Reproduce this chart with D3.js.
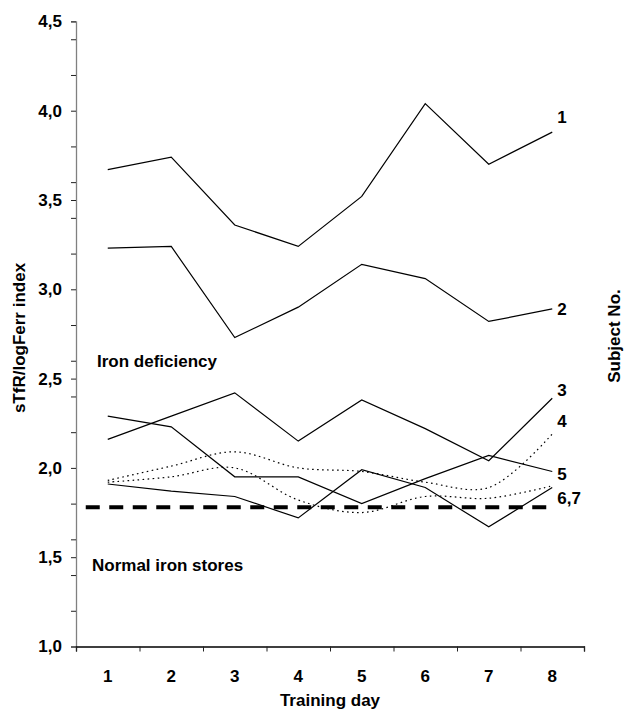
<!DOCTYPE html>
<html lang="en">
<head>
  <meta charset="UTF-8">
  <title>sTfR/logFerr index by training day</title>
  <script src="https://d3js.org/d3.v7.min.js"></script>
  <style>
    body { margin: 0; background: #fff; }
    svg { display: block; font-family: "Liberation Sans", Arial, sans-serif; font-weight: bold; }
    .axis text { font-size: 17px; font-weight: bold; fill: #000; }
    .label { font-size: 17px; fill: #000; }
    .line { fill: none; stroke: #000; stroke-width: 1.2px; }
  </style>
</head>
<body>
<svg id="chart" width="628" height="718"></svg>
<script>
// training days on the x axis
const days = [1, 2, 3, 4, 5, 6, 7, 8];

// sTfR/logFerr index per subject
const subject1 = [3.67, 3.74, 3.36, 3.24, 3.52, 4.04, 3.70, 3.88];
const subject2 = [3.23, 3.24, 2.73, 2.90, 3.14, 3.06, 2.82, 2.89];
const subject3 = [2.16, 2.29, 2.42, 2.15, 2.38, 2.22, 2.04, 2.39];
const subject4 = [1.93, 2.01, 2.09, 2.00, 1.98, 1.92, 1.89, 2.19];
const subject5 = [2.29, 2.23, 1.95, 1.95, 1.80, 1.94, 2.07, 1.98];
const subject6 = [1.91, 1.87, 1.84, 1.72, 1.99, 1.89, 1.67, 1.89];
const subject7 = [1.92, 1.95, 2.00, 1.82, 1.75, 1.84, 1.83, 1.90];

// cut-off between iron deficiency and normal stores
const cutoff = 1.78;

const yTicks = [1.0, 1.2, 1.4, 1.5, 1.6, 1.8, 2.0, 2.2, 2.4, 2.5, 2.6, 2.8, 3.0,
                3.2, 3.4, 3.5, 3.6, 3.8, 4.0, 4.2, 4.4, 4.5];

const series = [
  { values: subject1, dotted: false },
  { values: subject2, dotted: false },
  { values: subject3, dotted: false },
  { values: subject4, dotted: true },
  { values: subject5, dotted: false },
  { values: subject6, dotted: false },
  { values: subject7, dotted: true }
];

// end labels: text, value of the line it belongs to, pixel nudge
const endLabels = [
  { text: "1", at: subject1[7], dy: -15 },
  { text: "2", at: subject2[7], dy: 0 },
  { text: "3", at: subject3[7], dy: -8 },
  { text: "4", at: subject4[7], dy: -13 },
  { text: "5", at: subject5[7], dy: 3 },
  { text: "6,7", at: subject6[7], dy: 10 }
];

const mLeft = 76, mRight = 584, mTop = 21.4, mBottom = 646.5;
const svg = d3.select("#chart");

const x = d3.scaleBand().domain(days).range([mLeft, mRight]);
const xc = d => x(d) + x.bandwidth() / 2;
const y = d3.scaleLinear().domain([1, 4.5]).range([mBottom, mTop]);

// y axis
const yAxis = svg.append("g")
  .attr("class", "axis")
  .attr("transform", `translate(${mLeft},0)`)
  .call(d3.axisLeft(y)
    .tickValues(yTicks)
    .tickSize(5)
    .tickPadding(9)
    .tickFormat(v => Math.abs(v * 2 - Math.round(v * 2)) < 1e-6 ? d3.format(".1f")(v).replace(".", ",") : ""));
yAxis.select(".domain").attr("stroke", "#808080").attr("stroke-width", 1.3);
yAxis.selectAll(".tick line").attr("stroke", "#222");

// x axis: boundary ticks + centred labels
const xEdges = d3.scaleLinear().domain([0, days.length]).range([mLeft, mRight]);
const xAxis = svg.append("g")
  .attr("class", "axis")
  .attr("transform", `translate(0,${mBottom})`)
  .call(d3.axisBottom(xEdges).ticks(days.length).tickSize(5).tickFormat(""));
xAxis.select(".domain").attr("stroke", "#000").attr("stroke-width", 1.3);
xAxis.selectAll(".tick line").attr("stroke", "#222");

svg.append("g")
  .attr("class", "axis")
  .attr("transform", `translate(0,${mBottom})`)
  .call(d3.axisBottom(x).tickSize(0).tickPadding(23))
  .call(g => g.select(".domain").remove());

// cut-off dashed line
svg.append("line")
  .attr("x1", xc(days[0]) - 22)
  .attr("x2", xc(days[days.length - 1]))
  .attr("y1", y(cutoff))
  .attr("y2", y(cutoff))
  .attr("stroke", "#000")
  .attr("stroke-width", 4)
  .attr("stroke-dasharray", "14,9.5");

// subject lines
const straight = d3.line().x((d, i) => xc(days[i])).y(d => y(d));
const smooth = d3.line().x((d, i) => xc(days[i])).y(d => y(d)).curve(d3.curveCatmullRom.alpha(0.5));

svg.append("g")
  .selectAll("path")
  .data(series)
  .join("path")
  .attr("class", "line")
  .attr("d", s => s.dotted ? smooth(s.values) : straight(s.values))
  .attr("stroke-dasharray", s => s.dotted ? "1.6,3.4" : null)
  .attr("stroke-width", s => s.dotted ? 1.4 : 1.2);

// subject numbers at line ends
svg.append("g")
  .selectAll("text")
  .data(endLabels)
  .join("text")
  .attr("class", "label")
  .attr("x", xc(days[days.length - 1]) + 5)
  .attr("y", d => y(d.at) + d.dy + 6)
  .text(d => d.text);

// region notes
svg.append("text").attr("class", "label")
  .attr("x", 97).attr("y", 367).text("Iron deficiency");
svg.append("text").attr("class", "label")
  .attr("x", 92).attr("y", 571).text("Normal iron stores");

// axis titles
svg.append("text").attr("class", "label")
  .attr("text-anchor", "middle")
  .attr("x", (mLeft + mRight) / 2).attr("y", 706)
  .text("Training day");

svg.append("text").attr("class", "label")
  .attr("text-anchor", "middle")
  .attr("transform", `translate(25,${338}) rotate(-90)`)
  .text("sTfR/logFerr index");

svg.append("text").attr("class", "label")
  .attr("text-anchor", "middle")
  .attr("transform", `translate(620,${336}) rotate(-90)`)
  .text("Subject No.");
</script>
</body>
</html>
